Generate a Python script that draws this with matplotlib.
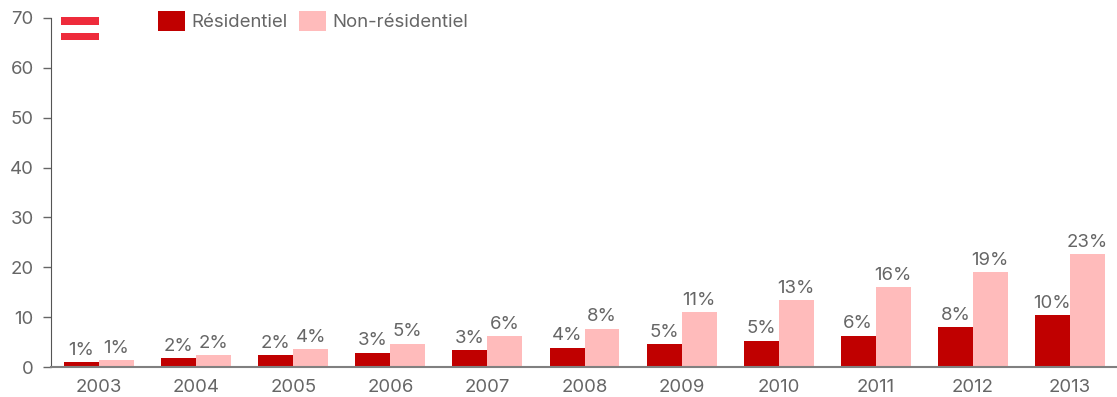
import matplotlib
matplotlib.use("Agg")
import matplotlib.pyplot as plt
from matplotlib.patches import Rectangle

years = ["2003", "2004", "2005", "2006", "2007", "2008", "2009", "2010", "2011", "2012", "2013"]
residentiel = [1.0, 1.8, 2.4, 2.9, 3.4, 3.9, 4.6, 5.3, 6.3, 8.0, 10.4]
non_residentiel = [1.4, 2.4, 3.6, 4.7, 6.2, 7.7, 11.0, 13.4, 16.0, 19.0, 22.6]
labels_res = ["1%", "2%", "2%", "3%", "3%", "4%", "5%", "5%", "6%", "8%", "10%"]
labels_non = ["1%", "2%", "4%", "5%", "6%", "8%", "11%", "13%", "16%", "19%", "23%"]
yticks = [0, 10, 20, 30, 40, 50, 60, 70]

RED = "#C00000"
PINK = "#FFBBBB"
TXT = "#666666"
FS = 13.4
W, H = 1117, 397
plt.rcParams["font.family"] = ["Inter", "DejaVu Sans"]

fig = plt.figure(figsize=(W / 100, H / 100), dpi=100)
ax = fig.add_axes([50.5 / W, 1 - 367 / H, 1068 / W, 349 / H])
x = list(range(len(years)))
bw = 0.36
ax.bar([i - bw / 2 for i in x], residentiel, bw, color=RED, label="Résidentiel")
ax.bar([i + bw / 2 for i in x], non_residentiel, bw, color=PINK, label="Non-résidentiel")
for i in x:
    ax.text(i - bw / 2, residentiel[i] + 0.65, labels_res[i], ha="center", va="bottom", fontsize=FS, color=TXT)
    ax.text(i + bw / 2, non_residentiel[i] + 0.65, labels_non[i], ha="center", va="bottom", fontsize=FS, color=TXT)

ax.set_xlim(-0.5, len(years) - 0.5)
ax.set_ylim(0, 70)
ax.set_xticks(x, years)
ax.set_yticks(yticks)
ax.tick_params(axis="x", length=0, pad=8.5, labelsize=FS, labelcolor=TXT)
ax.tick_params(axis="y", length=6, width=1, color="#666666", pad=6, labelsize=FS, labelcolor=TXT)
for s in ("top", "right"):
    ax.spines[s].set_visible(False)
ax.spines["left"].set_color("#555555")
ax.spines["bottom"].set_color("#808080")
ax.spines["bottom"].set_linewidth(1.5)
ax.spines["bottom"].set_zorder(5)

# Flag decoration
for y0, y1 in ((17, 25), (33, 40)):
    fig.add_artist(Rectangle((61 / W, 1 - y1 / H), 38 / W, (y1 - y0) / H, transform=fig.transFigure,
                             facecolor="#EE2B3B", edgecolor="none"))

# Legend
for x0, col, txt in ((158, RED, "Résidentiel"), (299, PINK, "Non-résidentiel")):
    fig.add_artist(Rectangle((x0 / W, 1 - 31 / H), 27 / W, 20 / H, transform=fig.transFigure,
                             facecolor=col, edgecolor="none"))
    fig.text((x0 + 33) / W, 1 - 22.5 / H, txt, ha="left", va="center", fontsize=FS, color=TXT)

fig.savefig("out.png", dpi=100)
